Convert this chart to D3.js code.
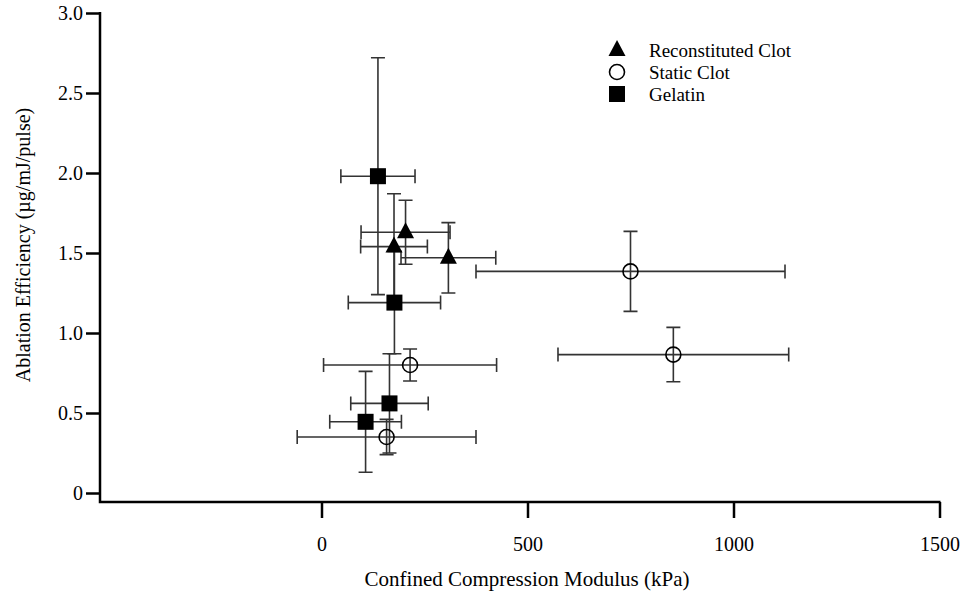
<!DOCTYPE html>
<html>
<head>
<meta charset="utf-8">
<script src="https://cdn.jsdelivr.net/npm/d3@7"></script>
<style>
  body { margin: 0; background: #fff; }
  svg text { font-family: "Liberation Serif", "Times New Roman", serif; fill: #000; }
</style>
</head>
<body>
<div id="chart"></div>
<script>
// values
var seriesNames = ['Reconstituted Clot', 'Static Clot', 'Gelatin']

var reconX = [204, 176, 308]
var reconY = [1.63, 1.54, 1.47]
var reconXErr = [108, 81, 115]
var reconYErr = [0.20, 0.33, 0.22]

var staticX = [750, 854, 215, 158]
var staticY = [1.385, 0.865, 0.80, 0.35]
var staticXErr = [375, 280, 210, 217]
var staticYErr = [0.25, 0.17, 0.10, 0.11]

var gelatinX = [137, 177, 165, 107]
var gelatinY = [1.98, 1.19, 0.56, 0.445]
var gelatinXErr = [90, 112, 94, 87]
var gelatinYErr = [0.74, 0.32, 0.31, 0.315]

var xTicks = [0, 500, 1000, 1500]
var yTicks = [0, 0.5, 1, 1.5, 2, 2.5, 3]
var yTickLabels = ['0', '0.5', '1.0', '1.5', '2.0', '2.5', '3.0']

var width = 968
var height = 594
var axisLeftX = 100
var axisBottomY = 502

var xScale = d3.scaleLinear()
  .domain([0, 1500])
  .range([321.5, 939.5])

var yScale = d3.scaleLinear()
  .domain([0, 3])
  .range([493, 13])

function toPoints(xs, ys, xe, ye) {
  return xs.map((d, i) => ({ x: d, y: ys[i], xe: xe[i], ye: ye[i] }))
}

var series = [
  { name: seriesNames[0], shape: 'triangle', points: toPoints(reconX, reconY, reconXErr, reconYErr) },
  { name: seriesNames[1], shape: 'circle', points: toPoints(staticX, staticY, staticXErr, staticYErr) },
  { name: seriesNames[2], shape: 'square', points: toPoints(gelatinX, gelatinY, gelatinXErr, gelatinYErr) }
]

var svg = d3.select('#chart')
  .append('svg')
  .attr('width', width)
  .attr('height', height)

// Y axis
var yAxis = d3.axisLeft(yScale)
  .tickValues(yTicks)
  .tickFormat((d, i) => yTickLabels[i])
  .tickSize(14)
  .tickPadding(3)
  .tickSizeOuter(0)

var yG = svg.append('g')
  .attr('transform', `translate(${axisLeftX},0)`)
  .call(yAxis)
yG.select('.domain').remove()
yG.selectAll('.tick line').attr('stroke', '#000').attr('stroke-width', 2.5)
yG.selectAll('.tick text').style('font-size', '20px')

// X axis
var xAxis = d3.axisBottom(xScale)
  .tickValues(xTicks)
  .tickFormat(d3.format('d'))
  .tickSize(16)
  .tickPadding(19)
  .tickSizeOuter(0)

var xG = svg.append('g')
  .attr('transform', `translate(0,${axisBottomY})`)
  .call(xAxis)
xG.select('.domain').remove()
xG.selectAll('.tick line').attr('stroke', '#000').attr('stroke-width', 2.5)
xG.selectAll('.tick text').style('font-size', '20px')

// axis frame (offset corner like the original)
svg.append('path')
  .attr('d', `M${axisLeftX},${yScale(3) - 1}V${axisBottomY}H${xScale(1500) + 1}`)
  .attr('fill', 'none')
  .attr('stroke', '#000')
  .attr('stroke-width', 2.5)

// axis titles
svg.append('text')
  .attr('transform', `translate(30,245) rotate(-90)`)
  .attr('text-anchor', 'middle')
  .style('font-size', '20px')
  .text('Ablation Efficiency (µg/mJ/pulse)')

svg.append('text')
  .attr('x', 527)
  .attr('y', 586)
  .attr('text-anchor', 'middle')
  .style('font-size', '21px')
  .text('Confined Compression Modulus (kPa)')

// error bars
var cap = 7
var errG = svg.append('g')
  .attr('stroke', '#333')
  .attr('stroke-width', 1.6)
  .attr('fill', 'none')

series.forEach(function(s) {
  s.points.forEach(function(p) {
    var cx = xScale(p.x), cy = yScale(p.y)
    var x0 = xScale(p.x - p.xe), x1 = xScale(p.x + p.xe)
    var y0 = yScale(p.y + p.ye), y1 = yScale(p.y - p.ye)
    errG.append('path')
      .attr('d', `M${x0},${cy}H${x1}M${x0},${cy - cap}V${cy + cap}M${x1},${cy - cap}V${cy + cap}` +
        `M${cx},${y0}V${y1}M${cx - cap},${y0}H${cx + cap}M${cx - cap},${y1}H${cx + cap}`)
  })
})

// markers
function drawMarker(g, shape, cx, cy) {
  if (shape === 'triangle') {
    g.append('path')
      .attr('d', `M${cx},${cy - 10}L${cx + 8.5},${cy + 6}L${cx - 8.5},${cy + 6}Z`)
      .attr('fill', '#000')
  } else if (shape === 'circle') {
    g.append('circle')
      .attr('cx', cx)
      .attr('cy', cy)
      .attr('r', 7.5)
      .attr('fill', 'none')
      .attr('stroke', '#000')
      .attr('stroke-width', 1.6)
  } else {
    g.append('rect')
      .attr('x', cx - 8)
      .attr('y', cy - 8)
      .attr('width', 16)
      .attr('height', 16)
      .attr('fill', '#000')
  }
}

var markG = svg.append('g')
series.forEach(function(s) {
  s.points.forEach(function(p) {
    drawMarker(markG, s.shape, xScale(p.x), yScale(p.y))
  })
})

// legend
var legend = svg.append('g')
  .attr('transform', 'translate(617,50)')
series.forEach(function(s, i) {
  var row = legend.append('g')
    .attr('transform', `translate(0,${i * 22})`)
  drawMarker(row, s.shape, 0, 0)
  row.append('text')
    .attr('x', 32)
    .attr('y', 7)
    .style('font-size', '19px')
    .text(s.name)
})
</script>
</body>
</html>
